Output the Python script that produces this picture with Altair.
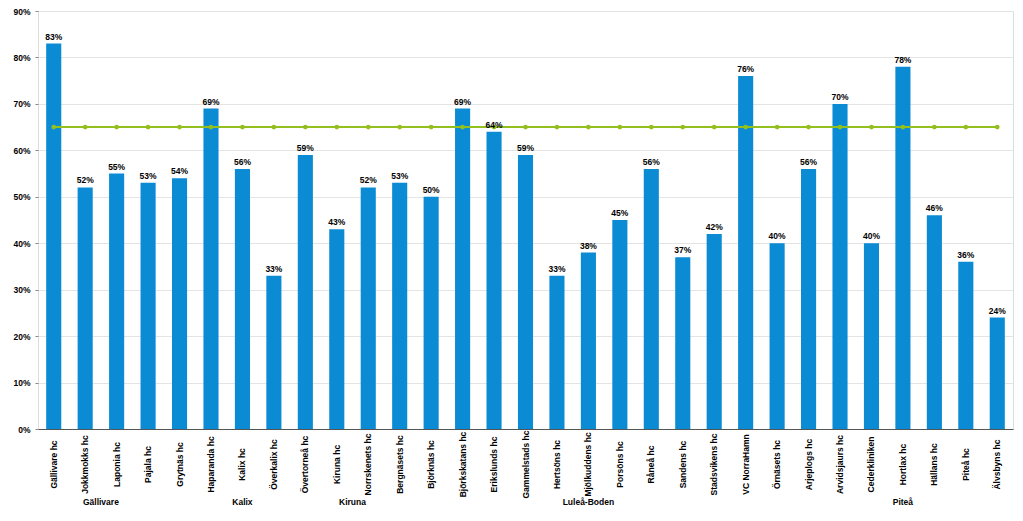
import altair as alt
import pandas as pd

categories = [
    "Gällivare hc", "Jokkmokks hc", "Laponia hc", "Pajala hc", "Grytnäs hc",
    "Haparanda hc", "Kalix hc", "Överkalix hc", "Övertorneå hc", "Kiruna hc",
    "Norrskenets hc", "Bergnäsets hc", "Björknäs hc", "Björkskatans hc",
    "Erikslunds hc", "Gammelstads hc", "Hertsöns hc", "Mjölkuddens hc",
    "Porsöns hc", "Råneå hc", "Sandens hc", "Stadsvikens hc", "VC NorraHamn",
    "Örnäsets hc", "Arjeplogs hc", "Arvidsjaurs hc", "Cederkliniken",
    "Hortlax hc", "Hällans hc", "Piteå hc", "Älvsbyns hc",
]
values = [
    0.83, 0.52, 0.55, 0.53, 0.54, 0.69, 0.56, 0.33, 0.59, 0.43,
    0.52, 0.53, 0.50, 0.69, 0.64, 0.59, 0.33, 0.38, 0.45, 0.56,
    0.37, 0.42, 0.76, 0.40, 0.56, 0.70, 0.40, 0.78, 0.46, 0.36, 0.24,
]
target = [0.65] * len(categories)

group_names = ["Gällivare", "Kalix", "Kiruna", "Luleå-Boden", "Piteå"]
group_centers = [1.5, 6, 9.5, 17, 27]  # position in category index units

FONT = "Liberation Sans"
BLUE = "#0A8BD4"
GREEN = "#93C01F"

W, H = 975, 418
n = len(categories)

df = pd.DataFrame({"name": categories, "value": values, "target": target})
gdf = pd.DataFrame({"group": group_names, "pos": group_centers})

xband = alt.Scale(paddingInner=0.52, paddingOuter=0.26)

base = alt.Chart(df)

bars = base.mark_bar(color=BLUE).encode(
    x=alt.X(
        "name:N",
        sort=None,
        scale=xband,
        title=None,
        axis=alt.Axis(
            labelAngle=-90,
            labelAlign="center",
            labelBaseline="middle",
            labelPadding=35,
            ticks=False,
            tickSize=0,
            domain=True,
            domainColor="#555555",
            domainWidth=1,
            labelFont=FONT,
            labelFontSize=8.5,
            labelFontWeight="bold",
            labelColor="#000000",
            labelOverlap=False,
            labelLimit=200,
            grid=False,
        ),
    ),
    y=alt.Y(
        "value:Q",
        scale=alt.Scale(domain=[0, 0.9], nice=False),
        title=None,
        axis=alt.Axis(
            values=[0, 0.1, 0.2, 0.3, 0.4, 0.5, 0.6, 0.7, 0.8, 0.9],
            format=".0%",
            domain=False,
            ticks=True,
            tickSize=3,
            tickColor="#888888",
            labelPadding=5,
            labelFont=FONT,
            labelFontSize=8.5,
            labelFontWeight="bold",
            labelColor="#000000",
            grid=True,
            gridColor="#e4e4e4",
            gridWidth=1,
        ),
    ),
)

labels = base.mark_text(
    baseline="bottom", dy=-2, font=FONT, fontSize=8.5, fontWeight="bold", color="#000000"
).encode(
    x=alt.X("name:N", sort=None, scale=xband),
    y=alt.Y("value:Q"),
    text=alt.Text("value:Q", format=".0%"),
)

line = base.mark_line(color=GREEN, strokeWidth=2).encode(
    x=alt.X("name:N", sort=None, scale=xband),
    y=alt.Y("target:Q"),
)
dots = base.mark_circle(color=GREEN, size=22, opacity=1).encode(
    x=alt.X("name:N", sort=None, scale=xband),
    y=alt.Y("target:Q"),
)

main = alt.layer(bars, line, dots, labels)

groups = alt.Chart(gdf).mark_text(
    font=FONT, fontSize=8.5, fontWeight="bold", color="#000000", baseline="middle"
).encode(
    x=alt.X("pos:Q", scale=alt.Scale(domain=[-0.5, n - 0.5], nice=False, zero=False), axis=None),
    y=alt.value(H + 73),
    text="group:N",
)

chart = (
    alt.layer(main, groups)
    .resolve_scale(x="independent")
    .properties(
        width=W,
        height=H,
        autosize=alt.AutoSizeParams(type="none"),
        padding={"left": 30, "top": 3, "right": 2, "bottom": 80},
    )
    .configure_view(stroke=None)
    .configure(font=FONT)
)

chart.save("out.html", embed_options={"renderer": "svg", "actions": False})
